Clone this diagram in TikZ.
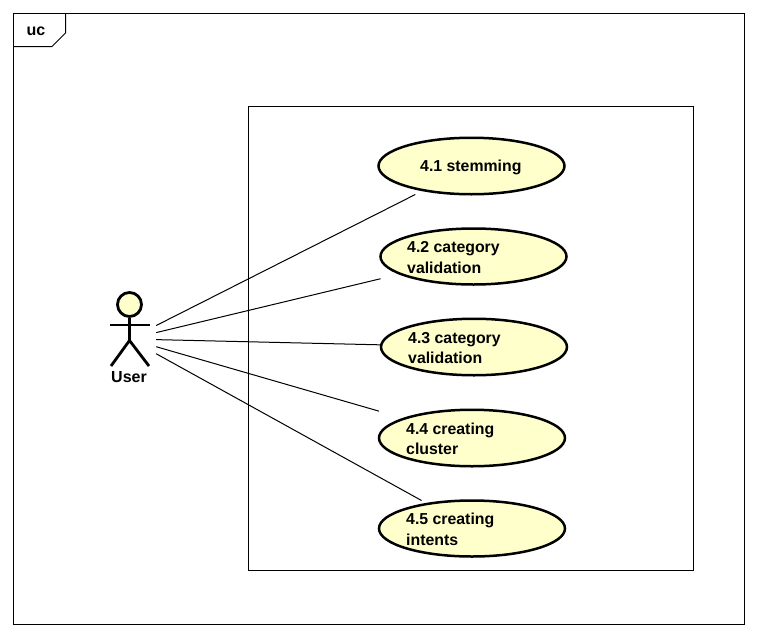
\documentclass[tikz,border=0pt]{standalone}
\usepackage{fontspec}
\setmainfont{Liberation Sans}
\usetikzlibrary{shapes.geometric}
\definecolor{ucfill}{HTML}{FFFFCC}
\tikzset{
  frameline/.style={draw=black,line width=1pt},
  uccase/.style={shape=ellipse,draw=black,fill=ucfill,line width=2.5pt,inner sep=0pt},
  ucbox/.style={shape=rectangle,inner sep=0pt,outer sep=0pt,minimum width=#1},
  uctext/.style={font=\fontsize{15.85}{20.5}\selectfont\bfseries,align=left,inner sep=0pt,anchor=west},
  actorline/.style={draw=black,line width=2.8pt},
  assoc/.style={draw=black,line width=1pt},
}
\begin{document}
\begin{tikzpicture}[x=1pt,y=-1pt]
\useasboundingbox (0,0) rectangle (757,637);
\fill[white] (0,0) rectangle (757,637);
% frame
\draw[frameline] (13.5,13.5) rectangle (744.5,624.5);
\draw[frameline] (13.5,46.5) -- (52,46.5) -- (65.5,33) -- (65.5,13.5);
\node[font=\fontsize{16}{20}\selectfont\bfseries,inner sep=0pt] (uc) at (36,31.5) {uc};
% system boundary
\draw[frameline] (248.5,106.5) rectangle (693.5,570.5);
% actor
\node[shape=rectangle,inner sep=0pt,minimum width=53pt,minimum height=80pt] (user) at (129.5,339) {};
\node[shape=circle,draw=black,fill=ucfill,line width=2.8pt,inner sep=0pt,minimum size=24pt] (head) at (129.5,304.5) {};
\coordinate (hip) at (129.5,340.5);
\coordinate (armL) at (110,325);
\coordinate (armR) at (150,325);
\coordinate (legL) at (111,366);
\coordinate (legR) at (149,366);
\draw[actorline] (head) -- (hip);
\draw[actorline] (armL) -- (armR);
\draw[actorline] (legL) -- (hip) -- (legR);
\node[font=\fontsize{16}{20}\selectfont\bfseries,inner sep=0pt] (userlabel) at (129,377.5) {User};
% use cases
\node[uccase,minimum width=186pt,minimum height=56.5pt] (c1) at (471.5,166) {};
\node[uccase,minimum width=186pt,minimum height=56pt] (c2) at (473.5,256.5) {};
\node[uccase,minimum width=186pt,minimum height=56.5pt] (c3) at (474,347) {};
\node[uccase,minimum width=186pt,minimum height=56.5pt] (c4) at (472,438) {};
\node[uccase,minimum width=186pt,minimum height=56pt] (c5) at (472,528.5) {};
\node[ucbox=186pt,minimum height=57pt] (b1) at (471.5,166) {};
\node[ucbox=186pt,minimum height=56pt] (b2) at (473.5,256.5) {};
\node[ucbox=186pt,minimum height=57pt] (b3) at (474,347) {};
\node[ucbox=186pt,minimum height=57pt] (b4) at (472,438) {};
\node[ucbox=186pt,minimum height=56pt] (b5) at (472,528.5) {};
\node[uctext] (t1) at (420,167) {4.1 stemming};
\node[uctext] (t2) at (407,257.5) {4.2 category\\validation};
\node[uctext] (t3) at (408,348) {4.3 category\\validation};
\node[uctext] (t4) at (406,439) {4.4 creating\\cluster};
\node[uctext] (t5) at (406,529.5) {4.5 creating\\intents};
% associations
\draw[assoc] (user) -- (b1);
\draw[assoc] (user) -- (b2);
\draw[assoc] (user) -- (b3);
\draw[assoc] (user) -- (b4);
\draw[assoc] (user) -- (b5);
\end{tikzpicture}
\end{document}
